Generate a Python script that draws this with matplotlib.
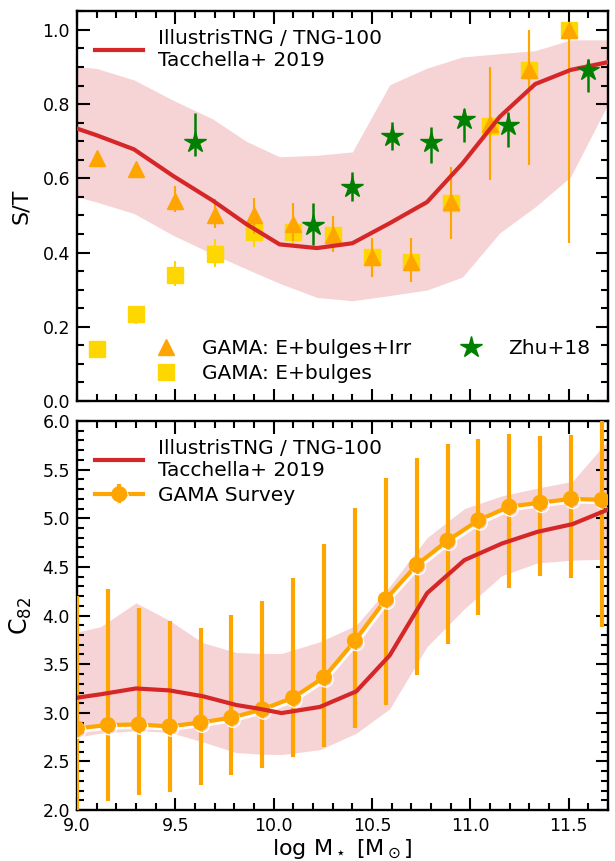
import numpy as np
import matplotlib
matplotlib.use('Agg')
import matplotlib.pyplot as plt
import matplotlib.patheffects as pe
from matplotlib.ticker import MultipleLocator, FormatStrFormatter

# ---------------- Top panel data (S/T) ----------------
tng_st_x = [9.0, 9.1, 9.29, 9.49, 9.69, 9.86, 10.03, 10.22, 10.40, 10.59, 10.78, 10.96, 11.15, 11.33, 11.51, 11.70]
tng_st_med = [0.734, 0.716, 0.678, 0.606, 0.54, 0.477, 0.422, 0.412, 0.425, 0.479, 0.536, 0.64, 0.766, 0.854, 0.892, 0.913]
tng_st_hi = [0.901, 0.896, 0.865, 0.81, 0.76, 0.70, 0.658, 0.662, 0.671, 0.852, 0.897, 0.927, 0.936, 0.944, 0.973, 0.973]
tng_st_lo = [0.55, 0.536, 0.505, 0.446, 0.396, 0.356, 0.317, 0.279, 0.270, 0.284, 0.299, 0.334, 0.453, 0.523, 0.604, 0.80]

gama_x = [9.1, 9.3, 9.5, 9.7, 9.9, 10.1, 10.3, 10.5, 10.7, 10.9, 11.1, 11.3, 11.5]
irr_y = [0.655, 0.626, 0.538, 0.50, 0.50, 0.478, 0.448, 0.387, 0.374, 0.536, 0.745, 0.892, 1.0]
irr_lo = [0.645, 0.61, 0.51, 0.467, 0.45, 0.43, 0.402, 0.335, 0.32, 0.437, 0.595, 0.635, 0.425]
irr_hi = [0.665, 0.64, 0.58, 0.544, 0.546, 0.534, 0.499, 0.44, 0.44, 0.63, 0.90, 1.0, 1.0]

bul_y = [0.139, 0.234, 0.34, 0.396, 0.455, 0.456, 0.448, 0.387, 0.374, 0.534, 0.741, 0.892, 1.0]
bul_lo = [0.132, 0.207, 0.31, 0.36, 0.416, 0.42, 0.402, 0.335, 0.32, 0.437, 0.595, 0.635, 0.425]
bul_hi = [0.146, 0.254, 0.377, 0.436, 0.49, 0.49, 0.499, 0.44, 0.44, 0.63, 0.90, 1.0, 1.0]

zhu_x = [9.6, 10.2, 10.4, 10.6, 10.8, 10.97, 11.19, 11.6]
zhu_y = [0.698, 0.474, 0.577, 0.714, 0.698, 0.76, 0.743, 0.892]
zhu_lo = [0.66, 0.42, 0.54, 0.676, 0.64, 0.698, 0.685, 0.833]
zhu_hi = [0.777, 0.533, 0.617, 0.752, 0.739, 0.786, 0.779, 0.921]

# ---------------- Bottom panel data (C82) ----------------
tng_c_x = [9.0, 9.12, 9.30, 9.47, 9.64, 9.81, 9.93, 10.04, 10.235, 10.42, 10.59, 10.78, 10.97, 11.16, 11.34, 11.52, 11.70]
tng_c_med = [3.155, 3.19, 3.25, 3.23, 3.17, 3.08, 3.04, 2.997, 3.06, 3.22, 3.59, 4.23, 4.57, 4.74, 4.86, 4.94, 5.09]
tng_c_hi = [3.83, 3.885, 4.13, 3.95, 3.72, 3.62, 3.61, 3.61, 3.73, 3.90, 4.30, 4.80, 5.10, 5.23, 5.31, 5.38, 5.80]
tng_c_lo = [2.75, 2.79, 2.815, 2.80, 2.70, 2.59, 2.575, 2.57, 2.62, 2.79, 3.04, 3.68, 4.07, 4.41, 4.54, 4.57, 4.58]

gs_x = [9.0, 9.157, 9.314, 9.471, 9.628, 9.785, 9.942, 10.099, 10.256, 10.413,
        10.57, 10.727, 10.884, 11.041, 11.198, 11.355, 11.512, 11.669]
gs_y = [2.84, 2.874, 2.88, 2.86, 2.90, 2.95, 3.035, 3.155, 3.365, 3.74,
        4.167, 4.52, 4.77, 4.98, 5.12, 5.16, 5.20, 5.19]
gs_lo = [1.9, 2.09, 2.15, 2.19, 2.26, 2.36, 2.43, 2.55, 2.65, 2.84,
         3.08, 3.385, 3.71, 4.01, 4.28, 4.41, 4.39, 3.885]
gs_hi = [4.2, 4.27, 4.08, 3.94, 3.87, 4.01, 4.15, 4.39, 4.74, 5.11,
         5.41, 5.62, 5.76, 5.82, 5.87, 5.85, 5.86, 6.2]

tng_label = 'IllustrisTNG / TNG-100\nTacchella+ 2019'

RED = '#d62728'
ORANGE = '#ffa500'
GOLD = '#ffd700'
GREEN = '#008000'

plt.rcParams['font.family'] = ['DejaVu Sans']
plt.rcParams['mathtext.fontset'] = 'dejavusans'

fig = plt.figure(figsize=(6.15, 8.61), dpi=100)
ax1 = fig.add_axes([0.1252, 0.5343, 0.8634, 0.4530])
ax2 = fig.add_axes([0.1252, 0.0592, 0.8634, 0.4518])


def style(ax):
    for s in ax.spines.values():
        s.set_linewidth(1.7)
    ax.tick_params(which='both', direction='in', top=True, right=True,
                   width=1.5, labelsize=12.5, pad=5)
    ax.tick_params(which='major', length=9)
    ax.tick_params(which='minor', length=5.3)
    ax.xaxis.set_major_locator(MultipleLocator(0.5))
    ax.xaxis.set_minor_locator(MultipleLocator(0.1))
    ax.set_xlim(9.0, 11.7)


# ---- top ----
style(ax1)
ax1.fill_between(tng_st_x, tng_st_lo, tng_st_hi, color=RED, alpha=0.2, lw=0, zorder=1)
ax1.errorbar(gama_x, bul_y,
             yerr=[np.array(bul_y) - np.array(bul_lo), np.array(bul_hi) - np.array(bul_y)],
             fmt='none', ecolor=GOLD, elinewidth=1.5, zorder=2)
h_bul, = ax1.plot(gama_x, bul_y, 's', color=GOLD, ms=11.5, zorder=3, label='GAMA: E+bulges')
ax1.errorbar(gama_x, irr_y,
             yerr=[np.array(irr_y) - np.array(irr_lo), np.array(irr_hi) - np.array(irr_y)],
             fmt='none', ecolor=ORANGE, elinewidth=1.5, zorder=3.5)
h_irr, = ax1.plot(gama_x, irr_y, '^', color=ORANGE, ms=12, zorder=4, label='GAMA: E+bulges+Irr')
h_tng1, = ax1.plot(tng_st_x, tng_st_med, color=RED, lw=3, zorder=5, label=tng_label)
ax1.errorbar(zhu_x, zhu_y,
             yerr=[np.array(zhu_y) - np.array(zhu_lo), np.array(zhu_hi) - np.array(zhu_y)],
             fmt='none', ecolor=GREEN, elinewidth=1.8, zorder=6)
h_zhu, = ax1.plot(zhu_x, zhu_y, '*', color=GREEN, ms=16, zorder=7, label='Zhu+18')

ax1.set_ylim(0.0, 1.051)
ax1.yaxis.set_major_locator(MultipleLocator(0.2))
ax1.yaxis.set_minor_locator(MultipleLocator(0.05))
ax1.yaxis.set_major_formatter(FormatStrFormatter('%.1f'))
ax1.tick_params(labelbottom=False)
ax1.set_ylabel('S/T', fontsize=16, labelpad=8)

leg1 = ax1.legend(handles=[h_tng1], loc='upper left', frameon=False, fontsize=14.5,
                  handlelength=2.4, handletextpad=0.7)
ax1.add_artist(leg1)
ax1.legend(handles=[h_irr, h_bul, h_zhu], loc='lower right', ncol=2, frameon=False,
           fontsize=14.5, numpoints=1, labelspacing=0.3, columnspacing=2.0,
           handletextpad=0.8)

# ---- bottom ----
style(ax2)
ax2.fill_between(tng_c_x, tng_c_lo, tng_c_hi, color=RED, alpha=0.2, lw=0, zorder=1)
gs_err = [np.array(gs_y) - np.array(gs_lo), np.array(gs_hi) - np.array(gs_y)]
h_gs = ax2.errorbar(gs_x, gs_y, yerr=gs_err, fmt='-o', color=ORANGE, lw=3, ms=10.5,
                    elinewidth=3, zorder=3, label='GAMA Survey')
h_gs.lines[0].set_path_effects([pe.SimpleLineShadow(offset=(1.2, -1.8), shadow_color='white', alpha=0.95),
                                pe.Normal()])
h_tng2, = ax2.plot(tng_c_x, tng_c_med, color=RED, lw=3, zorder=4, label=tng_label)
ax2.set_ylim(2.0, 6.0)
ax2.yaxis.set_major_locator(MultipleLocator(0.5))
ax2.yaxis.set_minor_locator(MultipleLocator(0.1))
ax2.yaxis.set_major_formatter(FormatStrFormatter('%.1f'))
ax2.xaxis.set_major_formatter(FormatStrFormatter('%.1f'))
ax2.set_ylabel(r'$\mathrm{C_{82}}$', fontsize=17, labelpad=6)
ax2.set_xlabel(r'$\mathrm{log\ M_\star\ [M_\odot]}$', fontsize=16, labelpad=2)
ax2.legend(handles=[h_tng2, h_gs], loc='upper left', frameon=False, fontsize=14.5,
           handlelength=2.4, handletextpad=0.7, labelspacing=0.3)

fig.savefig('out.png', dpi=100)
